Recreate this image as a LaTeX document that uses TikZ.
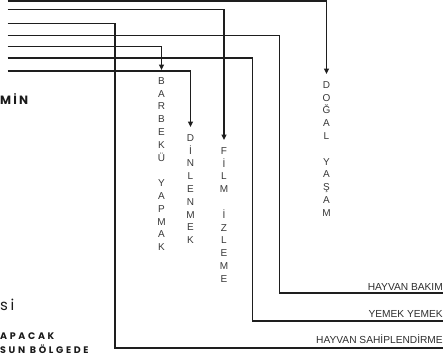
\documentclass[tikz,border=0pt]{standalone}
\usepackage{fontspec}
\setmainfont{Liberation Sans}
\newfontfamily\gothic[LetterSpace=28]{Poppins}
\newfontfamily\gothicn[LetterSpace=18]{Poppins}
\usetikzlibrary{arrows.meta}
\definecolor{linecol}{HTML}{1E1E1E}
\definecolor{lettercol}{HTML}{383838}
\definecolor{labelcol}{HTML}{2E2E2E}
\definecolor{leftcol}{HTML}{1A1A1A}
\tikzset{
  conn/.style={draw=linecol, line width=1.3pt},
  arr/.style={conn, -{Triangle[length=5.5pt,width=5pt]}},
  vword/.style={align=center, inner xsep=0pt, inner ysep=7.3pt, anchor=north,
    text=lettercol, font=\fontsize{10}{12.8}\selectfont},
  rlabel/.style={anchor=east, inner sep=0pt, text=labelcol, font=\fontsize{10.2}{12}\selectfont},
  lefttext/.style={anchor=west, inner sep=0pt, text=leftcol}
}
\begin{document}
\begin{tikzpicture}[x=1pt,y=-1pt]
\useasboundingbox (0,0) rectangle (443,356);
% start points at left edge
\coordinate (s1) at (7.5,1);
\coordinate (s2) at (7.5,9.3);
\coordinate (s3) at (7.5,23.3);
\coordinate (s4) at (7.5,35.3);
\coordinate (s5) at (7.5,46.7);
\coordinate (s6) at (7.5,58);
\coordinate (s7) at (7.5,71);
% bends and right ends of the bottom lines
\coordinate (c3) at (115,348);
\coordinate (e3) at (445,348);
\coordinate (c4) at (279.5,293);
\coordinate (e4) at (445,293);
\coordinate (c6) at (252.5,321);
\coordinate (e6) at (445,321);
% vertical words
\node[vword] (dogal) at (326.5,74) {D\\O\\Ğ\\A\\L\\~\\Y\\A\\Ş\\A\\M};
\node[vword] (barbeku) at (161.5,70) {B\\A\\R\\B\\E\\K\\Ü\\~\\Y\\A\\P\\M\\A\\K};
\node[vword] (dinlenmek) at (190.5,127) {D\\İ\\N\\L\\E\\N\\M\\E\\K};
\node[vword] (film) at (224,140) {F\\İ\\L\\M\\~\\İ\\Z\\L\\E\\M\\E};
% right labels
\node[rlabel] (bakim) at (443,287) {HAYVAN BAKIM};
\node[rlabel] (yemek) at (443,313.5) {YEMEK YEMEK};
\node[rlabel] (sahip) at (443,339) {HAYVAN SAHİPLENDİRME};
% left texts
\node[lefttext, font={\gothicn\bfseries\fontsize{12}{14}\selectfont}] (min) at (0,99) {MİN};
\node[lefttext, font={\gothicn\fontsize{15}{17}\selectfont}] (si) at (0,305) {si};
\node[lefttext, font={\gothic\bfseries\fontsize{9.5}{11}\selectfont}] (apacak) at (0,336) {APACAK};
\node[anchor=base west, inner sep=0pt, text=leftcol, font={\gothic\bfseries\fontsize{9.5}{11}\selectfont}] (bolge) at (0,353.5) {SUN BÖLGEDE};
% connectors
\draw[arr] (s1) -| (dogal.north);
\draw[arr] (s2) -| (film.north);
\draw[conn] (s3) -| (c3) -- (e3);
\draw[conn] (s4) -| (c4) -- (e4);
\draw[arr] (s5) -| (barbeku.north);
\draw[conn] (s6) -| (c6) -- (e6);
\draw[arr] (s7) -| (dinlenmek.north);
\end{tikzpicture}
\end{document}
